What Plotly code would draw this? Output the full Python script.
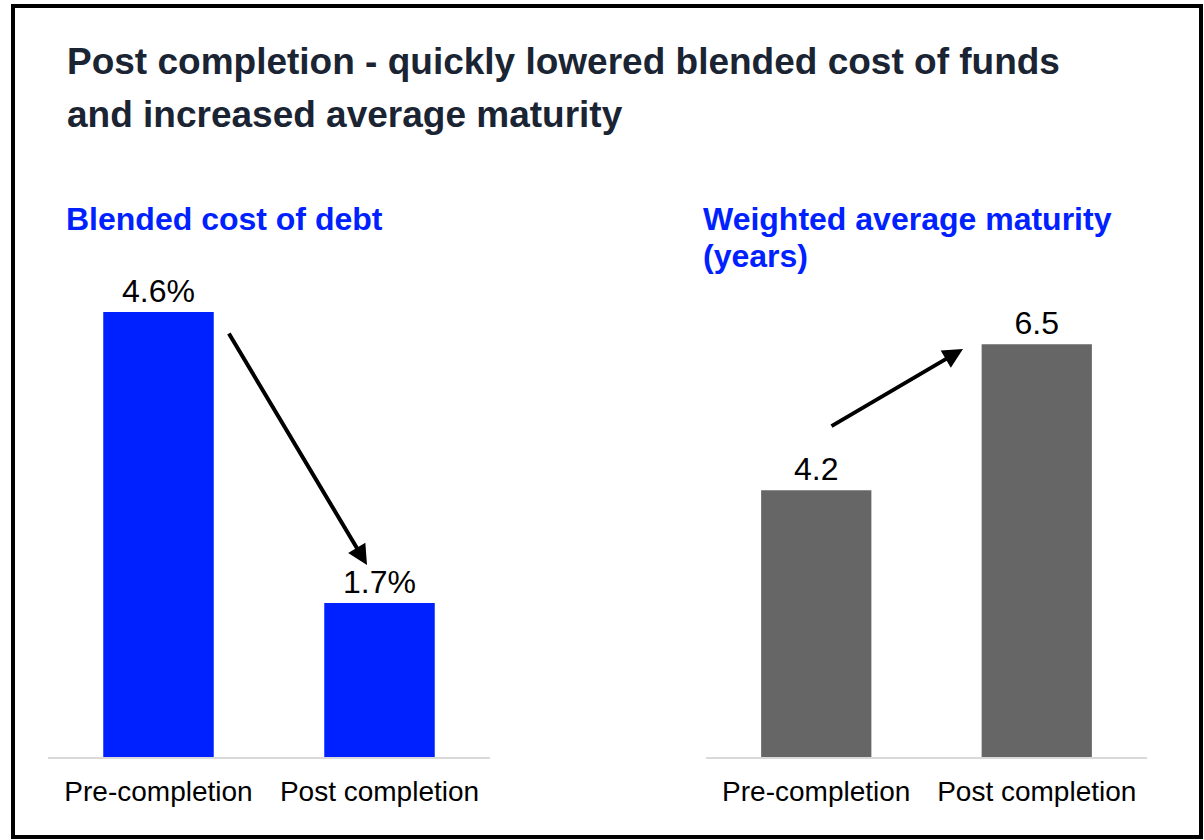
import plotly.graph_objects as go

W, H = 1204, 840

categorias = ["Pre-completion", "Post completion"]
custo_divida = [4.6, 1.7]
custo_labels = ["4.6%", "1.7%"]
maturidade = [4.2, 6.5]
maturidade_labels = ["4.2", "6.5"]

titulo_1 = "Post completion - quickly lowered blended cost of funds"
titulo_2 = "and increased average maturity"
sub_esq = "Blended cost of debt"
sub_dir_1 = "Weighted average maturity"
sub_dir_2 = "(years)"

FONTE = "Liberation Sans, Arial, sans-serif"
AZUL = "#0021ff"
CINZA = "#666666"


def px_x(x):
    return x / W


def px_y(y):
    return (H - y) / H


fig = go.Figure()
fig.add_trace(go.Bar(x=categorias, y=custo_divida, text=custo_labels, textposition="outside",
                     marker=dict(color=AZUL, line=dict(width=0)), xaxis="x", yaxis="y",
                     textfont=dict(size=32, color="black", family=FONTE), cliponaxis=False))
fig.add_trace(go.Bar(x=categorias, y=maturidade, text=maturidade_labels, textposition="outside",
                     marker=dict(color=CINZA, line=dict(width=0)), xaxis="x2", yaxis="y2",
                     textfont=dict(size=32, color="black", family=FONTE), cliponaxis=False))

eixo_x = dict(showgrid=False, zeroline=False, showline=True, linecolor="#d9d9d9", linewidth=2,
              ticks="", ticklabelstandoff=8,
              tickfont=dict(size=28, color="black", family=FONTE), fixedrange=True)
eixo_y = dict(showgrid=False, zeroline=False, showline=False, showticklabels=False, fixedrange=True)

base, topo = px_y(757), px_y(290)
fig.update_layout(
    width=W, height=H,
    margin=dict(l=0, r=0, t=0, b=0),
    paper_bgcolor="white", plot_bgcolor="white",
    showlegend=False, bargap=0.5,
    font=dict(family=FONTE),
    xaxis=dict(eixo_x, domain=[px_x(48), px_x(490)]),
    yaxis=dict(eixo_y, domain=[base, topo], range=[0.165, 4.819]),
    xaxis2=dict(eixo_x, domain=[px_x(706), px_x(1147)], anchor="y2"),
    yaxis2=dict(eixo_y, domain=[base, topo], range=[0, 467 / 63.5], anchor="x2"),
)

textos = [
    (titulo_1, 65, 62, 37, "#1a2433"),
    (titulo_2, 65, 115, 37, "#1a2433"),
    (sub_esq, 64, 219, 32, AZUL),
    (sub_dir_1, 701, 219, 32, AZUL),
    (sub_dir_2, 701, 256, 32, AZUL),
]
for txt, x, y, tam, cor in textos:
    fig.add_annotation(text="<b>%s</b>" % txt, xref="paper", yref="paper", x=px_x(x), y=px_y(y),
                       xanchor="left", yanchor="middle", showarrow=False,
                       font=dict(size=tam, color=cor, family=FONTE))

# setas
fig.add_annotation(xref="paper", yref="paper", x=px_x(367), y=px_y(565), ax=-139, ay=-233,
                   text="", showarrow=True, arrowhead=2, arrowsize=1, arrowwidth=4, arrowcolor="black")
fig.add_annotation(xref="paper", yref="paper", x=px_x(963), y=px_y(349), ax=-133, ay=78,
                   text="", showarrow=True, arrowhead=2, arrowsize=1, arrowwidth=4, arrowcolor="black")

# moldura
fig.add_shape(type="rect", xref="paper", yref="paper", x0=px_x(13), x1=px_x(1201), y0=px_y(837), y1=px_y(6),
              line=dict(color="black", width=4), fillcolor="rgba(0,0,0,0)")

fig.write_html("out.html", config={"displayModeBar": False},
               post_script="document.body.style.margin='0';")
